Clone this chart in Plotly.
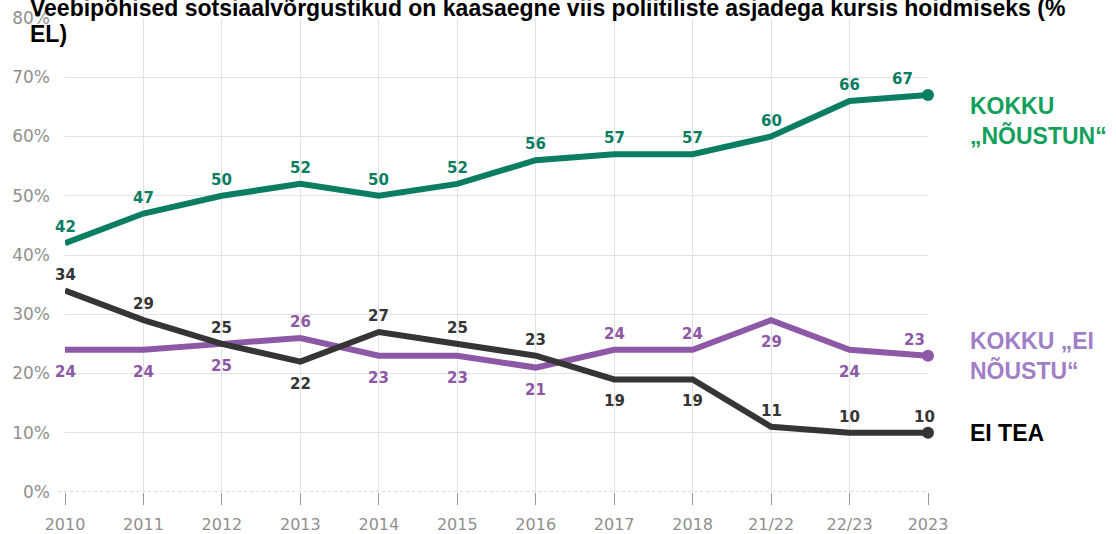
import plotly.graph_objects as go

# Survey waves and shares (%) of respondents
periods = ["2010", "2011", "2012", "2013", "2014", "2015", "2016", "2017",
           "2018", "21/22", "22/23", "2023"]
agree = [42, 47, 50, 52, 50, 52, 56, 57, 57, 60, 66, 67]
disagree = [24, 24, 25, 26, 23, 23, 21, 24, 24, 29, 24, 23]
dont_know = [34, 29, 25, 22, 27, 25, 23, 19, 19, 11, 10, 10]

y_ticks = [0, 10, 20, 30, 40, 50, 60, 70, 80]
y_tick_text = [f"{v}%" for v in y_ticks]

title_line1 = "Veebipõhised sotsiaalvõrgustikud on kaasaegne viis poliitiliste asjadega kursis hoidmiseks (% "
title_line2 = "EL)"

# label placement per point: +1 above the line, -1 below
agree_side = [1] * 12
disagree_side = [-1, -1, -1, 1, -1, -1, -1, 1, 1, -1, -1, 1]
dont_know_side = [1, 1, 1, -1, 1, 1, 1, -1, -1, 1, 1, 1]

GREEN = "#0b7d62"
PURPLE = "#8d58a5"
DARK = "#353535"
GRID = "#e2e2e2"
TICK_GRAY = "#8f8f8f"

x = list(range(len(periods)))
last = len(periods) - 1

fig = go.Figure()

series = [
    (agree, GREEN, agree_side),
    (disagree, PURPLE, disagree_side),
    (dont_know, DARK, dont_know_side),
]

for values, color, side in series:
    fig.add_trace(go.Scatter(
        x=x, y=values, mode="lines",
        line=dict(color=color, width=6),
        hoverinfo="skip", showlegend=False,
    ))
    fig.add_trace(go.Scatter(
        x=[x[last]], y=[values[last]], mode="markers",
        marker=dict(color=color, size=12),
        cliponaxis=False, hoverinfo="skip", showlegend=False,
    ))

annotations = []
for values, color, side in series:
    for i, (v, s) in enumerate(zip(values, side)):
        xshift = 0
        if i == last:
            xshift = {GREEN: -26, PURPLE: -14, DARK: -4}[color]
        annotations.append(dict(
            x=i, y=v, xref="x", yref="y", text=str(v), showarrow=False,
            font=dict(family="DejaVu Sans", size=15, color=color, weight="bold"),
            yshift=16 if s > 0 else -22, xshift=xshift,
        ))

# end-of-line series labels
side_labels = [
    ("KOKKU<br>„NÕUSTUN“", 67, "#13a05c", -26),
    ("KOKKU „EI<br>NÕUSTU“", 23, "#a07fc6", 0),
    ("EI TEA", 10, "#000000", 0),
]
for text, yv, color, ys in side_labels:
    annotations.append(dict(
        x=1, xref="paper", xanchor="left", xshift=40,
        y=yv, yref="y", yanchor="middle", yshift=ys,
        text=text, showarrow=False, align="left",
        font=dict(family="Liberation Sans", size=23, color=color, weight="bold"),
    ))

# chart title, running off the top edge
annotations.append(dict(
    x=0, xref="paper", xanchor="left", xshift=-37,
    y=1, yref="paper", yanchor="bottom", yshift=-5,
    text=title_line1, showarrow=False,
    font=dict(family="Liberation Sans", size=23, color="#000000", weight="bold"),
))
annotations.append(dict(
    x=0, xref="paper", xanchor="left", xshift=-37,
    y=1, yref="paper", yanchor="top", yshift=-1,
    text=title_line2, showarrow=False,
    font=dict(family="Liberation Sans", size=23, color="#000000", weight="bold"),
))

shapes = [
    dict(type="line", xref="paper", yref="y", x0=-0.008, x1=1, y0=0, y1=0,
         line=dict(color="#b5b5b5", width=1.2, dash="dot"), layer="below"),
]

fig.update_layout(
    width=1116, height=534,
    margin=dict(l=65, r=188, t=18, b=42, autoexpand=False),
    paper_bgcolor="white", plot_bgcolor="white",
    annotations=annotations, shapes=shapes,
    xaxis=dict(
        range=[0, last], tickvals=x, ticktext=periods,
        showgrid=True, gridcolor=GRID, gridwidth=1,
        zeroline=False, showline=False, automargin=False,
        ticks="outside", ticklen=12, tickcolor="#9a9a9a", tickwidth=1.3,
        ticklabelstandoff=6,
        tickfont=dict(family="DejaVu Sans", size=16, color=TICK_GRAY),
        fixedrange=True,
    ),
    yaxis=dict(
        range=[0, 80], tickvals=y_ticks, ticktext=y_tick_text,
        showgrid=True, gridcolor=GRID, gridwidth=1,
        zeroline=False, showline=False, ticks="", automargin=False,
        ticklabelstandoff=14,
        tickfont=dict(family="DejaVu Sans", size=17, color=TICK_GRAY),
        fixedrange=True,
    ),
)

fig.write_html("out.html")
